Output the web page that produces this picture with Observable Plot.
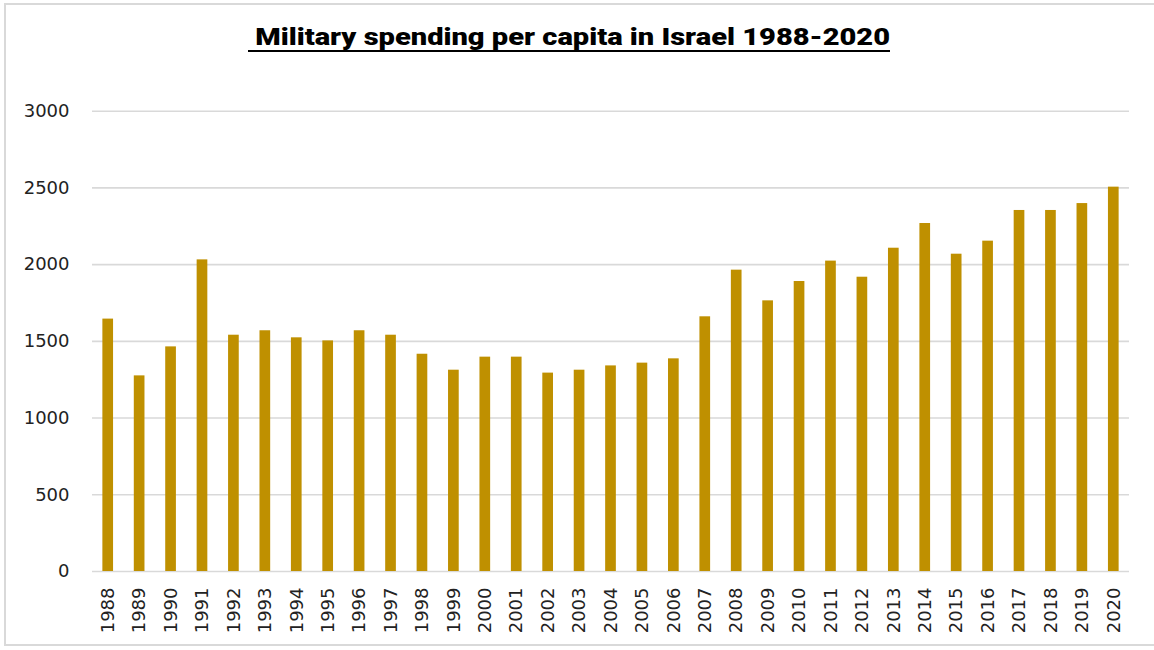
<!DOCTYPE html>
<html>
<head>
<meta charset="utf-8">
<script src="https://cdn.jsdelivr.net/npm/d3@7"></script>
<script src="https://cdn.jsdelivr.net/npm/@observablehq/plot@0.6"></script>
<style>
  html, body { margin: 0; padding: 0; background: #fff; overflow: hidden; }
  #wrap { position: relative; width: 1154px; height: 650px; }
  #frame { position: absolute; left: 4px; top: 3px; width: 1170px; height: 643px;
           border: 2px solid #d9d9d9; border-right: none; box-sizing: border-box; pointer-events: none; }
  #titlebox { position: relative; height: 80px; width: 1154px; }
  #title { position: absolute; left: 248px; top: 25px; white-space: pre;
           font-family: Roboto, "Open Sans", sans-serif; font-weight: 900; font-size: 24px; line-height: 24px;
           color: #000; text-decoration: underline; text-decoration-thickness: 2px; text-underline-offset: 5px;
           transform-origin: 0 0; }
  #chart svg { display: block; }
</style>
</head>
<body>
<div id="wrap">
  <div id="frame"></div>
  <div id="titlebox"><span id="title"> Military spending per capita in Israel 1988-2020</span></div>
  <div id="chart"></div>
</div>
<script>
const years = ["1988","1989","1990","1991","1992","1993","1994","1995","1996","1997","1998","1999","2000","2001","2002","2003","2004","2005","2006","2007","2008","2009","2010","2011","2012","2013","2014","2015","2016","2017","2018","2019","2020"];
const spending = [1645,1275,1464,2031,1540,1569,1523,1503,1569,1540,1416,1312,1397,1397,1293,1312,1340,1358,1386,1660,1964,1764,1890,2023,1918,2107,2268,2068,2153,2353,2353,2398,2505];
const yTicks = [0,500,1000,1500,2000,2500,3000];

const data = years.map((y, i) => ({year: y, value: spending[i]}));

// fit title width to reference
const t = document.getElementById("title");
const w = t.getBoundingClientRect().width;
t.style.transform = `scaleX(${642 / w})`;

const chart = Plot.plot({
  width: 1154,
  height: 570,
  marginTop: 30.7,
  marginBottom: 79,
  marginLeft: 92,
  marginRight: 25,
  style: {fontFamily: "'DejaVu Sans', sans-serif", fontSize: "18px", color: "#222", background: "#fff"},
  x: {domain: years, paddingInner: 0.66, paddingOuter: 0.33, round: false, label: null},
  y: {domain: [0, 3000], label: null},
  marks: [
    Plot.ruleY(yTicks, {stroke: "#d9d9d9", strokeWidth: 1.6}),
    Plot.barY(data, {x: "year", y: "value", fill: "#BF9000"}),
    Plot.axisY({ticks: yTicks, tickFormat: d => String(d), tickSize: 0, tickPadding: 23, label: null, fontSize: 18}),
    Plot.axisX({tickSize: 0, tickPadding: 16, tickRotate: -90, label: null, fontSize: 18})
  ]
});
document.getElementById("chart").appendChild(chart);
</script>
</body>
</html>
